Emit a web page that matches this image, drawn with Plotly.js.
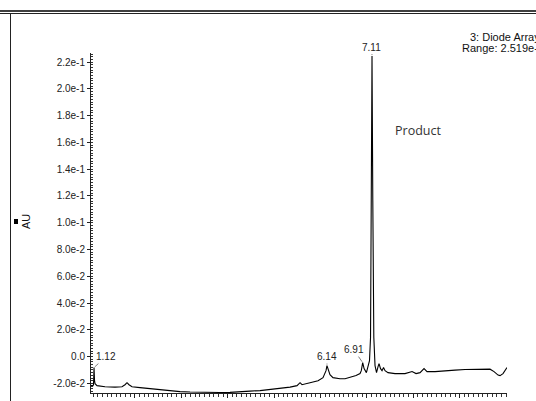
<!DOCTYPE html>
<html>
<head>
<meta charset="utf-8">
<script src="https://cdn.plot.ly/plotly-3.0.1.min.js"></script>
<style>html,body{margin:0;padding:0;background:#fff;}#chart{width:536px;height:401px;}</style>
</head>
<body>
<div id="chart"></div>
<script>
// Retention time (min)
const times = [1.055, 1.098, 1.109, 1.120, 1.131, 1.142, 1.185, 1.357, 1.573, 1.723, 1.788, 1.831, 1.874, 1.939,
  2.111, 2.327, 2.542, 2.758, 2.973, 3.189, 3.404, 3.620, 3.836, 4.051, 4.267, 4.482, 4.698, 4.913, 5.129, 5.344,
  5.495, 5.560, 5.603, 5.776, 5.948, 6.055, 6.098, 6.120, 6.140, 6.174, 6.205, 6.270, 6.420, 6.530, 6.637, 6.767,
  6.853, 6.880, 6.910, 6.940, 6.990, 7.025, 7.057, 7.079, 7.096, 7.111, 7.128, 7.150, 7.176, 7.208, 7.241, 7.262,
  7.295, 7.327, 7.359, 7.392, 7.456, 7.607, 7.823, 7.974, 8.060, 8.146, 8.232, 8.297, 8.469, 8.685, 8.900, 9.116,
  9.331, 9.547, 9.654, 9.741, 9.827, 9.870, 9.934, 10.020];
// Absorbance (AU)
const absorbance = [-0.0217, -0.0217, -0.0210, -0.0082, -0.0180, -0.0202, -0.0217, -0.0225, -0.0228, -0.0225, -0.0210, -0.0195, -0.0210, -0.0225,
  -0.0232, -0.0240, -0.0247, -0.0254, -0.0262, -0.0265, -0.0267, -0.0268, -0.0268, -0.0267, -0.0265, -0.0258, -0.0254, -0.0247, -0.0240, -0.0228,
  -0.0217, -0.0195, -0.0210, -0.0195, -0.0180, -0.0157, -0.0127, -0.0105, -0.0067, -0.0097, -0.0135, -0.0157, -0.0165, -0.0165, -0.0157, -0.0142,
  -0.0127, -0.0105, -0.0045, -0.0090, -0.0120, -0.0075, -0.0030, 0.0142, 0.1168, 0.2245, 0.1168, 0.0142, -0.0067, -0.0120, -0.0075, -0.0052,
  -0.0090, -0.0105, -0.0082, -0.0105, -0.0120, -0.0127, -0.0127, -0.0112, -0.0127, -0.0120, -0.0090, -0.0112, -0.0112, -0.0105, -0.0101, -0.0097,
  -0.0094, -0.0090, -0.0094, -0.0112, -0.0138, -0.0142, -0.0127, -0.0082];

// Peak labels
const peakTimes = [1.12, 6.14, 6.91, 7.11];
const peakValues = [-0.0082, -0.0067, -0.0045, 0.2245];
const peakLabels = ["1.12", "6.14", "6.91", "7.11"];

// Axis ticks
const yTickVals = [0.22, 0.20, 0.18, 0.16, 0.14, 0.12, 0.10, 0.08, 0.06, 0.04, 0.02, 0.0, -0.02];
const yTickText = ["2.2e-1", "2.0e-1", "1.8e-1", "1.6e-1", "1.4e-1", "1.2e-1", "1.0e-1", "8.0e-2", "6.0e-2", "4.0e-2", "2.0e-2", "0.0", "-2.0e-2"];
const xTickVals = [2, 3, 4, 5, 6, 7, 8, 9];
const xTickText = ["2.00", "3.00", "4.00", "5.00", "6.00", "7.00", "8.00", "9.00"];

const font = "Liberation Sans, Arial, sans-serif";

// pixel helpers for decorations outside plot area (plot area: x 91..507, y 53..393)
const L = 91, R = 507, T = 53, B = 393;
const px = v => (v - L) / (R - L);
const py = v => (B - v) / (B - T);

const trace = {
  x: times, y: absorbance, type: "scatter", mode: "lines",
  line: {color: "#000", width: 1.1}, hoverinfo: "skip"
};

const offsets = [[12, -11], [0, -9], [-9, -13], [0, -9]];
const annotations = peakTimes.map((t, i) => ({
  x: t, y: peakValues[i], xref: "x", yref: "y",
  text: peakLabels[i], showarrow: true, arrowhead: 0, arrowwidth: 0.7, arrowcolor: "#444",
  ax: offsets[i][0], ay: offsets[i][1], standoff: 1,
  font: {family: font, size: 10, color: "#222"}
}));
annotations.push(
  {xref: "paper", yref: "paper", x: px(393), y: py(130), xanchor: "left", yanchor: "middle",
   text: "Product", showarrow: false, font: {family: "Open Sans, Liberation Sans, sans-serif", size: 12.5, color: "#333"}},
  {xref: "paper", yref: "paper", x: px(468), y: py(37), xanchor: "left", yanchor: "middle",
   text: "3: Diode Array", showarrow: false, font: {family: font, size: 11, color: "#111"}},
  {xref: "paper", yref: "paper", x: px(460), y: py(48), xanchor: "left", yanchor: "middle",
   text: "Range: 2.519e-1", showarrow: false, font: {family: font, size: 11, color: "#111"}},
  {xref: "paper", yref: "paper", x: px(26), y: py(222), xanchor: "center", yanchor: "middle",
   text: "AU", textangle: -90, showarrow: false, font: {family: font, size: 11, color: "#111"}}
);

const shapes = [
  {type: "line", xref: "paper", yref: "paper", x0: px(0), x1: px(536), y0: py(11), y1: py(11), line: {color: "#000", width: 1.5}},
  {type: "line", xref: "paper", yref: "paper", x0: px(0), x1: px(536), y0: py(13.5), y1: py(13.5), line: {color: "#222", width: 1}},
  {type: "line", xref: "paper", yref: "paper", x0: px(10.5), x1: px(10.5), y0: py(13.5), y1: py(401), line: {color: "#222", width: 1}},
  {type: "rect", xref: "paper", yref: "paper", x0: px(14), x1: px(18), y0: py(219), y1: py(224), fillcolor: "#000", line: {width: 0}}
];

const layout = {
  width: 536, height: 401,
  margin: {l: L, r: 536 - R, t: T, b: 401 - B},
  paper_bgcolor: "#fff", plot_bgcolor: "#fff",
  showlegend: false,
  xaxis: {
    range: [1.055, 10.02], showgrid: false, zeroline: false,
    showline: true, linecolor: "#222", linewidth: 1,
    tickmode: "array", tickvals: xTickVals, ticktext: xTickText,
    ticks: "outside", ticklen: 4, tickcolor: "#222", tickwidth: 1,
    tickfont: {family: font, size: 10, color: "#222"},
    minor: {dtick: 0.1, tick0: 0, ticks: "outside", ticklen: 3, tickcolor: "#333", showgrid: false}
  },
  yaxis: {
    range: [-0.0272, 0.2268], showgrid: false, zeroline: false,
    showline: true, linecolor: "#222", linewidth: 1,
    tickmode: "array", tickvals: yTickVals, ticktext: yTickText,
    ticks: "outside", ticklen: 3, tickcolor: "#222", tickwidth: 1,
    tickfont: {family: font, size: 10, color: "#222"},
    minor: {dtick: 0.002, tick0: 0, ticks: "inside", ticklen: 2, tickcolor: "#333", showgrid: false}
  },
  annotations: annotations,
  shapes: shapes
};

Plotly.newPlot("chart", [trace], layout, {staticPlot: true, displayModeBar: false});
</script>
</body>
</html>
